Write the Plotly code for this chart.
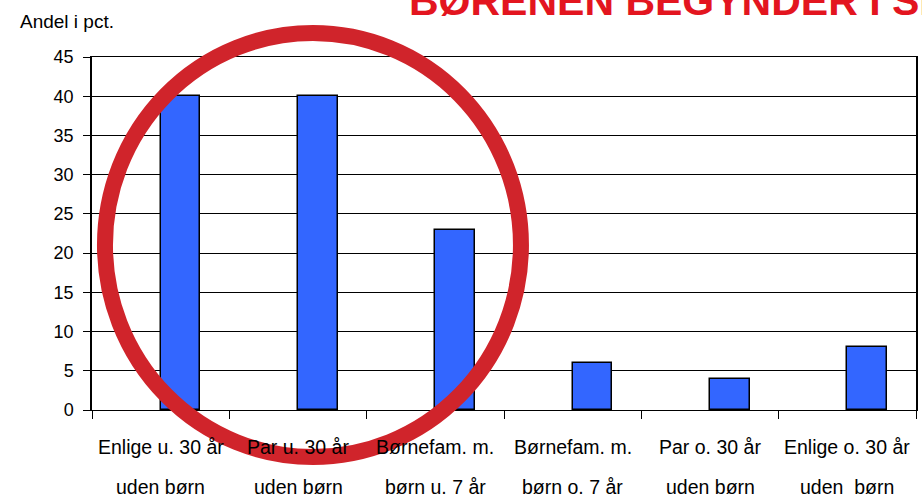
import plotly.graph_objects as go

categories = ["Enlige u. 30 år uden børn", "Par u. 30 år uden børn", "Børnefam. m. børn u. 7 år",
              "Børnefam. m. børn o. 7 år", "Par o. 30 år uden børn", "Enlige o. 30 år uden  børn"]
label_line1 = ["Enlige u. 30 år", "Par u. 30 år", "Børnefam. m.", "Børnefam. m.", "Par o. 30 år", "Enlige o. 30 år"]
label_line2 = ["uden børn", "uden børn", "børn u. 7 år", "børn o. 7 år", "uden børn", "uden\u00a0 børn"]
values = [40, 40, 23, 6, 4, 8]
y_ticks = [0, 5, 10, 15, 20, 25, 30, 35, 40, 45]

W, H = 922, 498
L, R, T, B = 92, 4, 57, 88
PW, PH = W - L - R, H - T - B

def px(x):
    return (x - L) / PW

def py(y):
    return (H - B - y) / PH

SANS = "Liberation Sans, Arial, sans-serif"

fig = go.Figure()
fig.add_trace(go.Bar(
    x=categories, y=values,
    width=0.29, offset=0,
    marker=dict(color="#3366FF", line=dict(color="#000000", width=1.5)),
    hoverinfo="x+y",
))

annotations = []
for c, l1, l2 in zip(categories, label_line1, label_line2):
    annotations.append(dict(x=c, xref="x", y=py(447), yref="paper", text=l1, showarrow=False,
                            xanchor="center", yanchor="middle",
                            font=dict(family=SANS, size=19.5, color="#000000")))
    annotations.append(dict(x=c, xref="x", y=py(487), yref="paper", text=l2, showarrow=False,
                            xanchor="center", yanchor="middle",
                            font=dict(family=SANS, size=19.5, color="#000000")))

annotations.append(dict(x=px(18), xref="paper", y=py(22), yref="paper", text="Andel i pct.",
                        showarrow=False, xanchor="left", yanchor="middle",
                        font=dict(family=SANS, size=19, color="#000000")))
annotations.append(dict(x=px(408), xref="paper", y=py(26), yref="paper",
                        text="<b>BØRENEN BEGYNDER I SI</b>",
                        showarrow=False, xanchor="left", yanchor="bottom",
                        font=dict(family=SANS, size=41, color="#E3151F")))

fig.update_layout(
    width=W, height=H,
    margin=dict(l=L, r=R, t=T, b=B, pad=0),
    paper_bgcolor="#FFFFFF", plot_bgcolor="#FFFFFF",
    showlegend=False,
    bargap=0,
    annotations=annotations,
    shapes=[dict(type="circle", xref="paper", yref="paper",
                 x0=px(105), x1=px(522), y0=py(457), y1=py(33),
                 line=dict(color="#D0242B", width=16), layer="above")],
    xaxis=dict(
        type="category", range=[-0.5, 5.5], tickson="boundaries",
        ticks="outside", ticklen=8, tickcolor="#000000", tickwidth=1,
        showticklabels=False, showgrid=False,
        showline=True, linecolor="#000000", linewidth=1, mirror=True,
        zeroline=False, fixedrange=True,
    ),
    yaxis=dict(
        range=[0, 45], tickvals=y_ticks, ticktext=[str(v) for v in y_ticks],
        ticks="outside", ticklen=7, tickcolor="#000000", tickwidth=1,
        ticklabelstandoff=6,
        tickfont=dict(family=SANS, size=18, color="#000000"),
        showgrid=True, gridcolor="#000000", gridwidth=1,
        showline=True, linecolor="#000000", linewidth=1.5, mirror=True,
        zeroline=False, fixedrange=True,
    ),
)

fig.write_html("out.html", config={"displayModeBar": False},
               post_script="document.body.style.margin='0';document.body.style.overflow='hidden';")
